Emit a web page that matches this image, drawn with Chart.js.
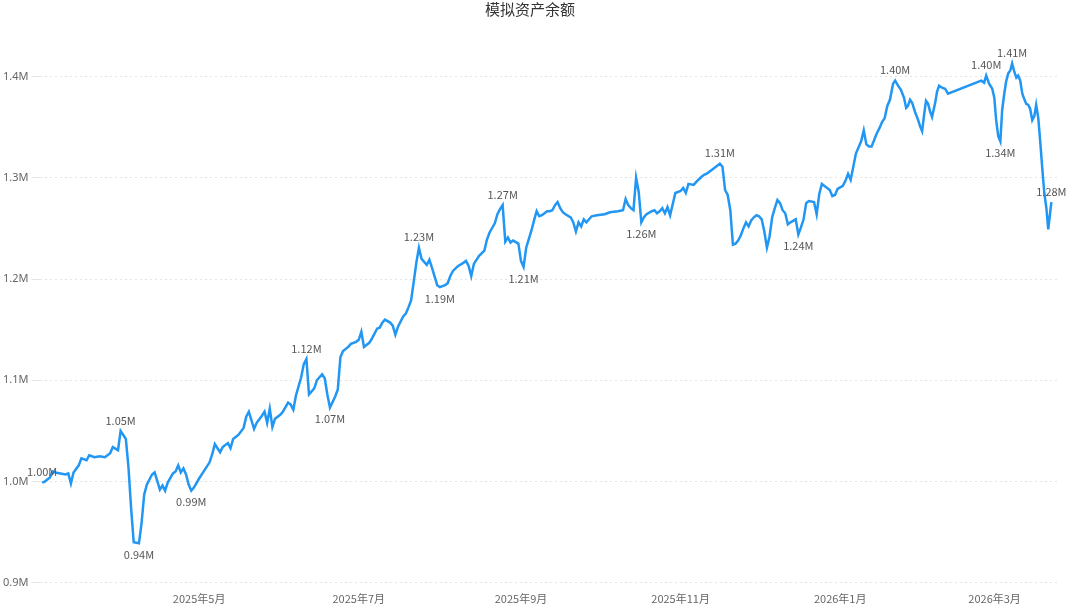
<!DOCTYPE html>
<html>
<head>
<meta charset="utf-8">
<script src="https://cdn.jsdelivr.net/npm/chart.js@4/dist/chart.umd.min.js"></script>
<style>
  html, body { margin: 0; padding: 0; background: #fff; }
  #wrap { width: 1080px; height: 606px; }
</style>
</head>
<body>
<div id="wrap"><canvas id="assetChart"></canvas></div>
<script>
// 天数：自 2025-03-01 起
const days = [1,2,4,5,6,8,10,11,12,13,15,16,18,19,21,23,25,27,28,30,31,33,34,35,36,38,39,40,41,43,44,46,47,48,49,51,52,53,54,55,56,57,58,59,
61,63,65,66,67,69,70,72,73,74,76,78,79,80,82,83,85,86,87,88,89,90,92,93,95,96,97,98,100,101,102,103,105,106,108,109,110,111,113,114,115,116,118,119,
121,122,123,124,126,127,129,130,131,132,134,135,136,137,139,140,141,142,143,144,145,146,147,148,149,150,152,153,155,156,157,158,160,162,163,164,165,166,167,168,170,171,172,174,175,176,177,178,179,180,181,183,
184,185,186,188,189,190,191,192,193,194,195,196,197,198,199,200,201,203,204,205,206,207,208,209,211,213,216,218,221,223,224,225,226,227,228,229,230,231,232,234,235,236,237,238,239,240,241,243,
245,246,247,248,250,251,253,254,255,257,259,260,261,262,263,264,265,266,267,268,269,270,271,272,273,274,275,276,277,278,279,280,281,282,283,284,285,286,287,289,290,291,292,293,294,296,297,298,299,300,
301,302,303,304,305,307,308,309,310,311,312,314,315,316,317,318,320,321,322,323,324,325,
326.2,327,328.1,329.2,330.4,331.2,331.9,332.7,333.5,334.6,335.8,336.5,337.3,338.1,338.8,339.6,340.4,341.1,342.3,343,343.8,344.9,346.1,347.2,
359.9,361,361.8,362.9,364.1,364.9,365.6,366.4,367.2,367.9,368.7,369.4,370.2,371,371.7,372.5,373.3,374,374.8,375.6,376.3,377.1,377.9,378.6,379.4,380.2,380.9,381.7,382.5,383.2,384,384.8,385.5,386.7];

// 资产余额（百万）
const balances = [0.999,1.000,1.004,1.010,1.009,1.008,1.007,1.008,0.998,1.009,1.016,1.023,1.021,1.026,1.024,1.025,1.024,1.028,1.034,1.031,1.050,1.042,1.014,0.974,0.940,0.939,0.959,0.987,0.997,1.007,1.009,0.992,0.996,0.991,0.999,1.008,1.010,1.016,1.009,1.013,1.007,0.997,0.991,0.994,
1.003,1.011,1.019,1.027,1.037,1.029,1.034,1.038,1.033,1.042,1.046,1.053,1.064,1.069,1.052,1.058,1.065,1.069,1.058,1.072,1.054,1.062,1.066,1.069,1.078,1.076,1.071,1.085,1.103,1.116,1.121,1.086,1.092,1.100,1.106,1.102,1.086,1.073,1.084,1.091,1.123,1.129,1.133,1.136,
1.138,1.140,1.148,1.133,1.137,1.141,1.151,1.152,1.157,1.160,1.157,1.154,1.145,1.153,1.163,1.166,1.172,1.179,1.197,1.216,1.231,1.220,1.217,1.214,1.219,1.211,1.194,1.192,1.194,1.196,1.203,1.208,1.213,1.216,1.218,1.213,1.203,1.215,1.219,1.223,1.228,1.239,1.246,1.255,1.264,1.269,1.273,1.237,1.241,1.236,1.238,1.235,
1.218,1.212,1.231,1.248,1.258,1.267,1.262,1.263,1.265,1.267,1.267,1.268,1.273,1.276,1.270,1.266,1.264,1.261,1.256,1.247,1.256,1.252,1.259,1.256,1.262,1.263,1.264,1.266,1.267,1.268,1.279,1.273,1.270,1.268,1.300,1.286,1.256,1.261,1.264,1.267,1.268,1.265,1.267,1.270,1.265,1.271,1.263,1.285,
1.287,1.290,1.285,1.294,1.293,1.296,1.301,1.303,1.304,1.308,1.312,1.314,1.311,1.288,1.283,1.268,1.234,1.235,1.238,1.243,1.250,1.256,1.252,1.258,1.261,1.263,1.262,1.259,1.247,1.231,1.242,1.261,1.270,1.278,1.275,1.268,1.265,1.254,1.256,1.259,1.244,1.251,1.259,1.275,1.277,1.276,1.264,1.284,1.294,1.292,
1.290,1.288,1.282,1.283,1.289,1.292,1.297,1.304,1.298,1.311,1.324,1.336,1.347,1.333,1.331,1.331,1.344,1.349,1.355,1.359,1.371,1.377,
1.393,1.396,1.391,1.387,1.379,1.369,1.371,1.377,1.374,1.365,1.357,1.351,1.346,1.363,1.376,1.373,1.365,1.360,1.374,1.385,1.391,1.389,1.388,1.383,
1.396,1.394,1.401,1.393,1.388,1.379,1.357,1.341,1.336,1.367,1.383,1.395,1.403,1.406,1.413,1.405,1.399,1.401,1.396,1.383,1.378,1.373,1.372,1.368,1.357,1.361,1.372,1.359,1.334,1.310,1.285,1.270,1.249,1.276];

// 月份刻度
const tickDays = [61, 122, 184, 245, 306, 365];
const tickLabels = ['2025年5月', '2025年7月', '2025年9月', '2025年11月', '2026年1月', '2026年3月'];

// 需要标注数值的点（上方 / 下方）
const labelAbove = [1, 31, 102, 145, 177, 260, 327, 361.8, 371.7, 386.7];
const labelBelow = [38, 58, 111, 153, 185, 230, 290, 367.2];

const points = days.map((d, i) => ({ x: d, y: balances[i] }));

const pointLabels = {
    id: 'pointLabels',
    afterDatasetsDraw(chart) {
        const ctx = chart.ctx;
        const xs = chart.scales.x, ys = chart.scales.y;
        ctx.save();
        ctx.font = "11px 'Noto Sans CJK SC', 'Noto Sans', sans-serif";
        ctx.fillStyle = '#555';
        ctx.textAlign = 'center';
        const draw = (d, above) => {
            const i = days.indexOf(d);
            if (i < 0) return;
            const px = xs.getPixelForValue(d), py = ys.getPixelForValue(balances[i]);
            ctx.textBaseline = above ? 'bottom' : 'top';
            ctx.fillText(balances[i].toFixed(2) + 'M', px, above ? py - 5 : py + 6);
        };
        labelAbove.forEach(d => draw(d, true));
        labelBelow.forEach(d => draw(d, false));
        ctx.restore();
    }
};

new Chart(document.getElementById('assetChart'), {
    type: 'line',
    data: {
        datasets: [{
            data: points,
            borderColor: '#2196f3',
            borderWidth: 2.5,
            pointRadius: 0,
            tension: 0,
            fill: false
        }]
    },
    options: {
        responsive: true,
        maintainAspectRatio: false,
        animation: false,
        layout: { padding: { left: 0, right: 20, top: 0, bottom: 0 } },
        plugins: {
            legend: { display: false },
            tooltip: { enabled: false },
            title: {
                display: true,
                text: '模拟资产余额',
                color: '#333',
                font: { family: "'Noto Sans CJK SC', sans-serif", size: 15, weight: 'normal' },
                padding: { top: 0, bottom: 13 }
            }
        },
        scales: {
            x: {
                type: 'linear',
                min: 0,
                max: 390,
                grid: { display: false },
                border: { display: false },
                afterBuildTicks(axis) {
                    axis.ticks = tickDays.map(v => ({ value: v }));
                },
                ticks: {
                    autoSkip: false,
                    maxRotation: 0,
                    padding: 1,
                    color: '#666',
                    font: { family: "'Noto Sans CJK SC', sans-serif", size: 11 },
                    callback: (v) => tickLabels[tickDays.indexOf(v)]
                }
            },
            y: {
                min: 0.9,
                max: 1.445,
                grid: { color: '#e4e4e4', borderDash: [2, 3] },
                border: { display: false, dash: [2, 3] },
                afterBuildTicks(axis) {
                    axis.ticks = [0.9, 1.0, 1.1, 1.2, 1.3, 1.4].map(v => ({ value: v }));
                },
                ticks: {
                    color: '#666',
                    font: { family: "'Noto Sans', sans-serif", size: 11 },
                    callback: (v) => v.toFixed(1) + 'M'
                }
            }
        }
    },
    plugins: [pointLabels]
});
</script>
</body>
</html>
